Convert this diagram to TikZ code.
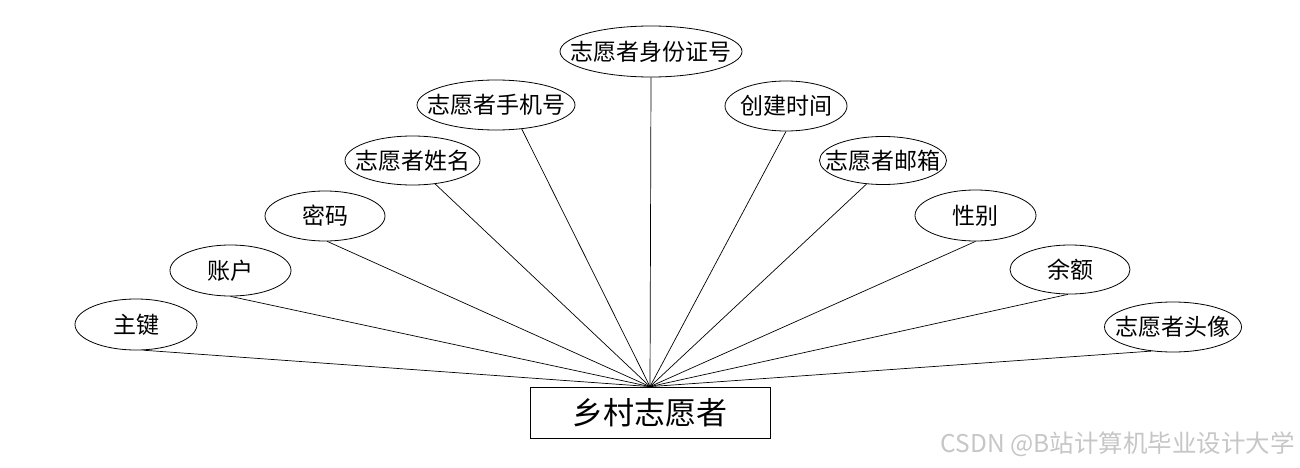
\documentclass[tikz,border=0pt]{standalone}
\usepackage{fontspec}
\setmainfont{Noto Sans CJK SC}
\usetikzlibrary{shapes.geometric}
\newcommand{\attrtext}[1]{\makebox[0pt][c]{#1}}
\begin{document}
\begin{tikzpicture}[x=1pt,y=-1pt,
  attr/.style={ellipse,draw,line width=0.8pt,inner sep=0pt,minimum height=50pt,font=\fontsize{23}{27}\selectfont},
  ent/.style={rectangle,draw,line width=0.8pt,minimum width=240pt,minimum height=51pt,inner sep=0pt,font=\fontsize{31}{37}\selectfont},
  conn/.style={line width=0.7pt},
  wm/.style={text=gray!45,font=\fontsize{24.5}{28}\selectfont,inner sep=0pt}]
\useasboundingbox (0,0) rectangle (1300,468);
\node[ent] (e) at (650,412.5) {乡村志愿者};
\node[attr,minimum width=122pt,minimum height=51pt] (a1) at (136,324.5) {\attrtext{主键}};
\node[attr,minimum width=121pt,minimum height=51pt] (a2) at (230.5,270.5) {\attrtext{账户}};
\node[attr,minimum width=120pt] (a3) at (325,216) {\attrtext{密码}};
\node[attr,minimum width=135pt,minimum height=49pt] (a4) at (412.5,160.5) {\attrtext{志愿者姓名}};
\node[attr,minimum width=158pt] (a5) at (496,105) {\attrtext{志愿者手机号}};
\node[attr,minimum width=182pt,minimum height=51pt] (a6) at (651,51.5) {\attrtext{志愿者身份证号}};
\node[attr,minimum width=122pt] (a7) at (786,106) {\attrtext{创建时间}};
\node[attr,minimum width=127pt,minimum height=48pt] (a8) at (883,160.5) {\attrtext{志愿者邮箱}};
\node[attr,minimum width=121pt,minimum height=51pt] (a9) at (975.5,215.5) {\attrtext{性别}};
\node[attr,minimum width=120pt,minimum height=49pt] (a10) at (1070,269.5) {\attrtext{余额}};
\node[attr,minimum width=137pt] (a11) at (1173,327) {\attrtext{志愿者头像}};
\draw[conn] (a1.-74.6) -- (e.north);
\draw[conn] (a2.south) -- (e.north);
\draw[conn] (a3.-85) -- (e.north);
\draw[conn] (a4.-46) -- (e.north);
\draw[conn] (a5.-43) -- (e.north);
\draw[conn] (a6.south) -- (e.north);
\draw[conn] (a7.south) -- (e.north);
\draw[conn] (a8.-125) -- (e.north);
\draw[conn] (a9.south) -- (e.north);
\draw[conn] (a10.-95) -- (e.north);
\draw[conn] (a11.-132.6) -- (e.north);
\node[wm,anchor=east] (w) at (1295,444) {CSDN @B站计算机毕业设计大学};
\end{tikzpicture}
\end{document}
